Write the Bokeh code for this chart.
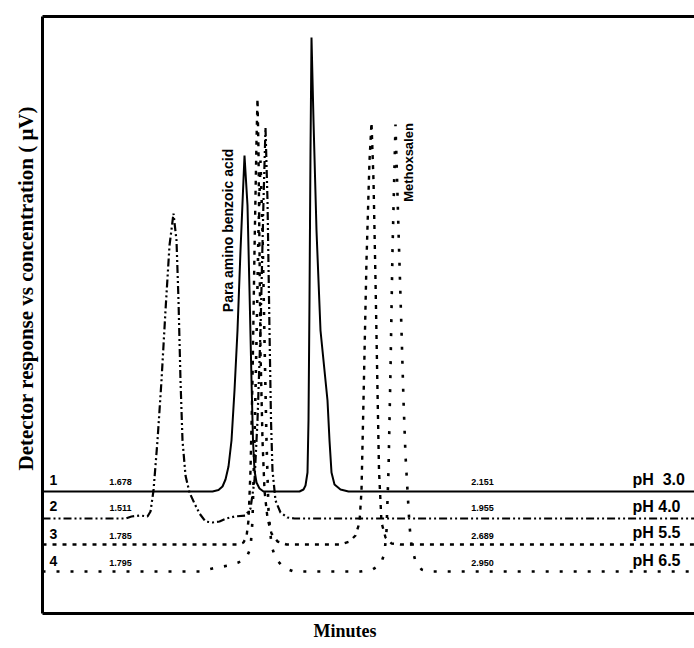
import math
from bokeh.plotting import figure
from bokeh.models import Range1d, LinearAxis, FixedTicker, Label, Title
from bokeh.embed import file_html
from bokeh.resources import INLINE

# Retention time axis (min) and detector signal (µV, above each trace's own baseline)
ph_labels = ["pH\u00a0\u00a03.0", "pH 4.0", "pH 5.5", "pH 6.5"]
trace_ids = ["1", "2", "3", "4"]
rt_first = ["1.678", "1.511", "1.785", "1.795"]
rt_second = ["2.151", "1.955", "2.689", "2.950"]

# pH 3.0
t_ph30 = [0.00, 1.70, 1.76, 1.80, 1.83, 1.86, 1.89, 1.92, 1.95, 1.98, 2.02, 2.05, 2.07,
          2.09, 2.105, 2.12, 2.14, 2.17, 2.21, 2.57, 2.61, 2.63, 2.65, 2.66, 2.67, 2.68,
          2.69, 2.71, 2.74, 2.78, 2.82, 2.85, 2.87, 2.89, 2.92, 2.98, 3.06, 6.52]
s_ph30 = [0.0, 0.0, 0.15, 0.5, 1.2, 2.5, 5.1, 10.1, 16.1, 24.1, 33.6, 28.6, 20.1,
          11.1, 5.1, 2.1, 0.9, 0.3, 0.0, 0.0, 0.2, 0.6, 1.9, 7.1, 19.1, 34.1,
          45.4, 37.1, 26.1, 16.1, 12.1, 9.1, 5.1, 1.9, 0.7, 0.2, 0.0, 0.0]

# pH 4.0
t_ph40 = [0.00, 0.83, 0.89, 0.98, 1.05, 1.08, 1.11, 1.15, 1.19, 1.23, 1.27, 1.31, 1.34,
          1.36, 1.38, 1.40, 1.43, 1.47, 1.52, 1.57, 1.63, 1.70, 1.77, 1.84, 1.92, 2.03,
          2.08, 2.12, 2.15, 2.18, 2.21, 2.23, 2.25, 2.27, 2.285, 2.30, 2.33, 2.38, 2.45,
          2.52, 6.52]
s_ph40 = [0.0, 0.0, 0.2, 0.3, 0.2, 0.7, 2.8, 7.8, 13.8, 20.8, 27.3, 30.5, 27.8,
          21.8, 13.8, 7.8, 4.3, 2.6, 1.5, 0.5, -0.3, -0.4, -0.3, 0.0, 0.2, 0.3,
          1.0, 3.8, 9.8, 18.8, 31.8, 39.1, 31.8, 18.8, 9.8, 4.8, 1.8, 0.6, 0.1,
          0.0, 0.0]

# pH 5.5
t_ph55 = [0.00, 1.96, 2.01, 2.04, 2.06, 2.08, 2.10, 2.12, 2.14, 2.15, 2.16, 2.17, 2.18,
          2.20, 2.22, 2.25, 2.29, 2.35, 2.44, 2.98, 3.07, 3.13, 3.17, 3.19, 3.21, 3.24,
          3.27, 3.29, 3.31, 3.33, 3.35, 3.365, 3.39, 3.43, 3.49, 3.58, 6.52]
s_ph55 = [0.0, 0.0, 0.2, 0.8, 2.4, 7.4, 16.4, 29.4, 40.4, 44.6, 39.4, 29.4, 19.4,
          10.4, 5.4, 2.6, 1.1, 0.3, 0.0, 0.0, 0.3, 0.9, 2.2, 5.4, 14.4, 28.4,
          38.4, 42.2, 36.4, 26.4, 15.4, 7.4, 2.2, 0.7, 0.1, 0.0, 0.0]

# pH 6.5
t_ph65 = [0.00, 1.58, 1.70, 1.86, 1.96, 2.04, 2.08, 2.10, 2.12, 2.14, 2.16, 2.18, 2.20,
          2.22, 2.24, 2.26, 2.29, 2.33, 2.41, 2.51, 3.18, 3.30, 3.38, 3.42, 3.44, 3.46,
          3.48, 3.50, 3.53, 3.56, 3.59, 3.61, 3.63, 3.65, 3.67, 3.69, 3.73, 3.79, 3.86,
          6.52]
s_ph65 = [0.0, 0.0, 0.3, 0.6, 0.9, 1.4, 2.3, 5.1, 13.1, 23.1, 34.1, 41.1, 34.1,
          23.1, 13.1, 6.1, 2.6, 1.3, 0.4, 0.0, 0.0, 0.2, 0.7, 1.8, 4.1, 10.1,
          20.1, 32.1, 44.7, 34.1, 24.1, 17.1, 11.6, 8.1, 4.6, 2.6, 1.0, 0.2, 0.0,
          0.0]

# vertical stacking of the four chromatograms
offsets = [12.2, 9.5, 6.9, 4.2]

traces = [
    (t_ph30, s_ph30, "solid", 2.0),
    (t_ph40, s_ph40, "8 3 2 3 2 3", 2.2),
    (t_ph55, s_ph55, "4 6", 2.4),
    (t_ph65, s_ph65, "3 11", 2.6),
]

p = figure(width=694, height=648, output_backend="svg", toolbar_location=None,
           x_range=Range1d(0, 6.52), y_range=Range1d(0, 59.7),
           min_border_left=42, min_border_right=0, min_border_top=16, min_border_bottom=35,
           background_fill_color="white", border_fill_color="white")
p.outline_line_color = None
p.xgrid.visible = False
p.ygrid.visible = False

# frame drawn as three axis lines (left, bottom, top) with no ticks
for ax in (p.xaxis[0], p.yaxis[0]):
    ax.ticker = FixedTicker(ticks=[])
    ax.axis_line_width = 3
    ax.axis_line_color = "black"
    ax.major_tick_out = 0
    ax.major_tick_in = 0
    ax.minor_tick_out = 0
    ax.minor_tick_in = 0

top = LinearAxis(ticker=FixedTicker(ticks=[]), axis_line_width=3, axis_line_color="black",
                 major_tick_out=0, major_tick_in=0, minor_tick_out=0, minor_tick_in=0)
p.add_layout(top, "above")

# axis titles
serif = "Liberation Serif"
p.add_layout(Title(text="Minutes", align="left", offset=271, standoff=11,
                   text_font=serif, text_font_style="bold", text_font_size="18px",
                   text_color="black"), "below")
p.add_layout(Title(text="Detector response vs concentration ( \u03bcV)", align="left",
                   offset=143, standoff=9, text_font=serif, text_font_style="bold",
                   text_font_size="21px", text_color="black"), "left")

for (t, s, dash, lw), off in zip(traces, offsets):
    y = [off + v for v in s]
    p.line(t, y, line_color="black", line_width=lw, line_dash=dash)

sans = "Liberation Sans"
# trace numbers, first/second retention times and pH labels, each at its own baseline
id_y = [13.4, 10.8, 8.0, 5.3]
rt_y = [13.2, 10.6, 7.8, 5.1]
ph_y = [13.4, 10.7, 8.1, 5.3]
for i in range(4):
    p.add_layout(Label(x=0.11, y=id_y[i], text=trace_ids[i], text_font=sans,
                       text_font_style="bold", text_font_size="14px", text_color="black",
                       text_align="center", text_baseline="middle"))
    p.add_layout(Label(x=0.78, y=rt_y[i], text=rt_first[i], text_font=sans,
                       text_font_style="bold", text_font_size="9px", text_color="black",
                       text_align="center", text_baseline="middle"))
    p.add_layout(Label(x=4.40, y=rt_y[i], text=rt_second[i], text_font=sans,
                       text_font_style="bold", text_font_size="9px", text_color="black",
                       text_align="center", text_baseline="middle"))
    p.add_layout(Label(x=5.90, y=ph_y[i], text=ph_labels[i], text_font=sans,
                       text_font_style="bold", text_font_size="16px", text_color="black",
                       text_align="left", text_baseline="middle"))

# compound names beside their peaks
p.add_layout(Label(x=1.85, y=38.3, text="Para amino benzoic acid", angle=math.pi / 2,
                   text_font=sans, text_font_style="bold", text_font_size="14px",
                   text_color="black", text_align="center", text_baseline="middle"))
p.add_layout(Label(x=3.66, y=45.1, text="Methoxsalen", angle=math.pi / 2,
                   text_font=sans, text_font_style="bold", text_font_size="13px",
                   text_color="black", text_align="center", text_baseline="middle"))

open("out.html", "w").write(file_html(p, INLINE))
